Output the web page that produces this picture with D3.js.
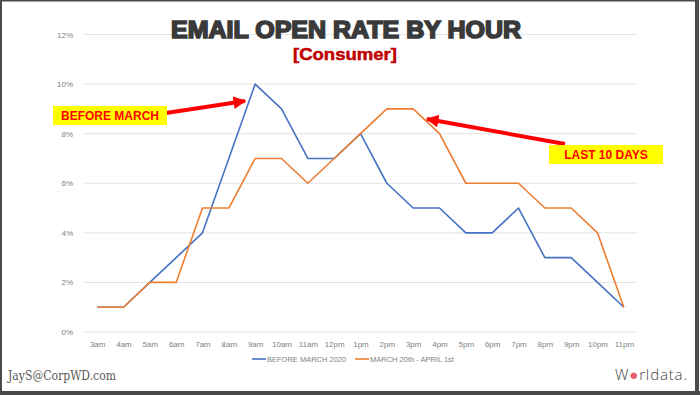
<!DOCTYPE html>
<html lang="en">
<head>
    <meta charset="UTF-8">
    <title>Email Open Rate by Hour</title>
    <style>
        body { margin: 0; background: #fff; }
        svg { display: block; }
    </style>
</head>
<body>
    <svg id="chart" width="700" height="395"></svg>

    <script src="https://d3js.org/d3.v7.min.js"></script>
    <script>
        // Chart data
        var hours = ['3am', '4am', '5am', '6am', '7am', '8am', '9am', '10am', '11am', '12pm', '1pm',
                     '2pm', '3pm', '4pm', '5pm', '6pm', '7pm', '8pm', '9pm', '10pm', '11pm'];
        var beforeMarch = [1, 1, 2, 3, 4, 7, 10, 9, 7, 7, 8, 6, 5, 5, 4, 4, 5, 3, 3, 2, 1];
        var lastTenDays = [1, 1, 2, 2, 5, 5, 7, 7, 6, 7, 8, 9, 9, 8, 6, 6, 6, 5, 5, 4, 1];
        var yTicks = [0, 2, 4, 6, 8, 10, 12];
        var seriesNames = ['BEFORE MARCH 2020', 'MARCH 20th - APRIL 1st'];
        var seriesColors = ['#4472c4', '#ed7d31'];

        var svg = d3.select('#chart');

        // Plot area (names avoid window.top etc.)
        var plotLeft = 84, plotRight = 637, plotTop = 34.5, plotBottom = 332;

        var x = d3.scalePoint()
            .domain(hours)
            .range([plotLeft, plotRight])
            .padding(0.5);

        var y = d3.scaleLinear()
            .domain([0, 12])
            .range([plotBottom, plotTop]);

        // Gridlines
        svg.append('g')
            .selectAll('line')
            .data(yTicks)
            .join('line')
            .attr('x1', plotLeft)
            .attr('x2', plotRight)
            .attr('y1', function(d) { return y(d); })
            .attr('y2', function(d) { return y(d); })
            .attr('stroke', '#e3e3e3')
            .attr('stroke-width', 1);

        // Y axis labels
        var yAxis = svg.append('g')
            .attr('transform', 'translate(' + (plotLeft - 8) + ',0)')
            .call(d3.axisLeft(y).tickValues(yTicks).tickSize(0).tickFormat(function(d) { return d + '%'; }));
        yAxis.select('.domain').remove();
        yAxis.selectAll('text')
            .attr('fill', '#7f7f7f')
            .style('font-family', 'Liberation Sans, Arial, sans-serif')
            .style('font-size', '8px');

        // tiny empty axis title mark
        svg.append('text')
            .attr('x', 58).attr('y', 192)
            .attr('fill', '#999')
            .style('font-family', 'Liberation Sans, Arial, sans-serif')
            .style('font-size', '7px')
            .text(',');

        // X axis labels
        var xAxis = svg.append('g')
            .attr('transform', 'translate(0,' + (plotBottom + 6) + ')')
            .call(d3.axisBottom(x).tickSize(0));
        xAxis.select('.domain').remove();
        xAxis.selectAll('text')
            .attr('fill', '#7f7f7f')
            .style('font-family', 'Liberation Sans, Arial, sans-serif')
            .style('font-size', '8px');

        // Lines
        var line = d3.line()
            .x(function(d, i) { return x(hours[i]); })
            .y(function(d) { return y(d); });

        [beforeMarch, lastTenDays].forEach(function(values, k) {
            svg.append('path')
                .datum(values)
                .attr('d', line)
                .attr('fill', 'none')
                .attr('stroke', seriesColors[k])
                .attr('stroke-width', 1.6)
                .attr('stroke-linejoin', 'round');
        });

        // Legend
        var legendX = [252, 355];
        seriesNames.forEach(function(name, k) {
            var g = svg.append('g').attr('transform', 'translate(' + legendX[k] + ',359)');
            g.append('line')
                .attr('x1', 0).attr('x2', 14)
                .attr('stroke', seriesColors[k])
                .attr('stroke-width', 1.6);
            g.append('text')
                .attr('x', 15)
                .attr('dy', '0.35em')
                .attr('fill', '#7f7f7f')
                .style('font-family', 'Liberation Sans Narrow, Liberation Sans, Arial, sans-serif')
                .style('font-size', '7.5px')
                .text(name);
        });

        // Title
        svg.append('text')
            .attr('x', 346)
            .attr('y', 38)
            .attr('text-anchor', 'middle')
            .attr('fill', '#3a3a3a')
            .attr('stroke', '#3a3a3a')
            .attr('stroke-width', 1.6)
            .attr('textLength', 350)
            .attr('lengthAdjust', 'spacingAndGlyphs')
            .style('font-family', 'Liberation Sans, Arial, sans-serif')
            .style('font-weight', 'bold')
            .style('font-size', '23px')
            .text('EMAIL OPEN RATE BY HOUR');

        svg.append('text')
            .attr('x', 345)
            .attr('y', 60)
            .attr('text-anchor', 'middle')
            .attr('fill', '#c00000')
            .attr('stroke', '#c00000')
            .attr('stroke-width', 0.5)
            .attr('textLength', 104)
            .attr('lengthAdjust', 'spacingAndGlyphs')
            .style('font-family', 'Liberation Sans, Arial, sans-serif')
            .style('font-weight', 'bold')
            .style('font-size', '17px')
            .text('[Consumer]');

        // Annotation arrows
        svg.append('defs').append('marker')
            .attr('id', 'head')
            .attr('viewBox', '0 0 10 10')
            .attr('refX', 9)
            .attr('refY', 5)
            .attr('markerWidth', 3.2)
            .attr('markerHeight', 3.2)
            .attr('markerUnits', 'strokeWidth')
            .attr('orient', 'auto')
            .append('path')
            .attr('d', 'M0,0L10,5L0,10Z')
            .attr('fill', '#ff0000');

        svg.append('line')
            .attr('x1', 166).attr('y1', 113)
            .attr('x2', 245).attr('y2', 101)
            .attr('stroke', '#ff0000')
            .attr('stroke-width', 4)
            .attr('marker-end', 'url(#head)');

        svg.append('line')
            .attr('x1', 565).attr('y1', 144)
            .attr('x2', 427).attr('y2', 119)
            .attr('stroke', '#ff0000')
            .attr('stroke-width', 4)
            .attr('marker-end', 'url(#head)');

        // Annotation boxes
        var notes = [
            { text: 'BEFORE MARCH', x: 53, y: 106, w: 114, h: 19 },
            { text: 'LAST 10 DAYS', x: 549, y: 145, w: 114, h: 19 }
        ];
        notes.forEach(function(n) {
            svg.append('rect')
                .attr('x', n.x).attr('y', n.y)
                .attr('width', n.w).attr('height', n.h)
                .attr('fill', '#ffff00');
            svg.append('text')
                .attr('x', n.x + n.w / 2)
                .attr('y', n.y + n.h / 2)
                .attr('dy', '0.36em')
                .attr('text-anchor', 'middle')
                .attr('fill', '#ff0000')
                .style('font-family', 'Liberation Sans, Arial, sans-serif')
                .style('font-weight', 'bold')
                .style('font-size', '12px')
                .text(n.text);
        });

        // Footer
        svg.append('text')
            .attr('x', 8)
            .attr('y', 380)
            .attr('fill', '#595959')
            .attr('textLength', 108)
            .attr('lengthAdjust', 'spacingAndGlyphs')
            .style('font-family', 'DejaVu Serif, serif')
            .style('font-size', '12px')
            .text('JayS@CorpWD.com');

        var logo = svg.append('text')
            .attr('x', 615)
            .attr('y', 380)
            .attr('fill', '#404040')
            .attr('textLength', 72)
            .style('font-family', 'Open Sans, Noto Sans, sans-serif')
            .style('font-weight', '300')
            .style('font-size', '15px');
        logo.append('tspan').text('W');
        logo.append('tspan').attr('fill', '#e8606a').style('font-weight', 'bold').text('●');
        logo.append('tspan').text('rldata.');

        // Frame
        svg.append('rect')
            .attr('x', 1).attr('y', 0.5)
            .attr('width', 696).attr('height', 391.5)
            .attr('fill', 'none')
            .attr('stroke', '#4a4a4a')
            .attr('stroke-width', 2);
        svg.append('line').attr('x1', 697).attr('x2', 697).attr('y1', 0).attr('y2', 395)
            .attr('stroke', '#4a4a4a').attr('stroke-width', 4);
        svg.append('line').attr('x1', 0).attr('x2', 700).attr('y1', 393).attr('y2', 393)
            .attr('stroke', '#4a4a4a').attr('stroke-width', 4);
    </script>
</body>
</html>
